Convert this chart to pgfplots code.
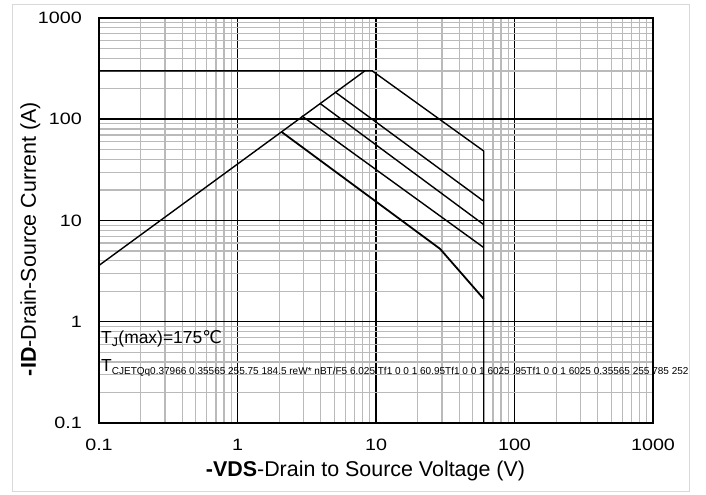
\documentclass[border=0pt]{standalone}
\usepackage{fontspec}
\setmainfont{Liberation Sans}
\newfontfamily\tickfont[FakeStretch=1.2]{Liberation Sans}
\newfontfamily\dejavu{DejaVu Sans}
\usepackage{pgfplots}
\pgfplotsset{compat=1.18}
\begin{document}
\begin{tikzpicture}
\useasboundingbox (0,0) rectangle (706bp,495bp);
\draw[color=black!15, line width=1bp] (12bp,3bp) rectangle (689bp,490bp);
\begin{axis}[
  at={(99bp,72bp)}, anchor=south west,
  scale only axis, width=554bp, height=405bp,
  xmode=log, ymode=log,
  xmin=0.1, xmax=1000, ymin=0.1, ymax=1000,
  xtick={0.1,1,10,100,1000}, xticklabels={0.1,1,10,100,1000},
  ytick={0.1,1,10,100,1000}, yticklabels={0.1,1,10,100,1000},
  major tick length=0pt, minor tick length=0pt,
  grid=both,
  major grid style={black, line width=1.5bp},
  minor grid style={color=black!27, line width=1.2bp},
  axis line style={black, line width=1.6bp},
  tick label style={font=\fontsize{16.5}{16.5}\tickfont},
  x tick label style={anchor=center, yshift=-22bp},
  y tick label style={anchor=east, xshift=-17bp, inner sep=0pt},
  xlabel={\textbf{-VDS}-Drain to Source Voltage (V)},
  ylabel={\textbf{-ID}-Drain-Source Current (A)},
  xlabel style={at={(axis description cs:0.481,-0.118)}, anchor=center, font=\fontsize{21.5}{21.5}\selectfont},
  ylabel style={at={(axis description cs:-0.124,0.454)}, anchor=center, font=\fontsize{21.5}{21.5}\selectfont},
  clip=false,
]
% R_DS(on) limit
\addplot[black, line width=1.4bp] coordinates {(0.1,3.6) (8.3,300)};
% current limit
\addplot[black, line width=1.4bp] coordinates {(0.1,300) (9.4,300) (60,48.5) (60,0.1)};
% pulse lines
\addplot[black, line width=1.4bp] coordinates {(5.06,186) (60,15.5)};
\addplot[black, line width=1.4bp] coordinates {(3.95,143) (60,9.1)};
\addplot[black, line width=1.4bp] coordinates {(2.91,108) (60,5.4)};
\addplot[black, line width=1.8bp] coordinates {(2.08,75) (29,5.25) (60,1.68)};
\node[anchor=base west, inner sep=0pt, font=\fontsize{17.5}{17.5}\selectfont] at (axis cs:0.1034,0.605) {T\textsubscript{J}(max)=175{\dejavu ℃}};
\node[anchor=base west, inner sep=0pt] at (axis cs:0.1034,0.32) {{\fontsize{17.5}{17.5}\selectfont T}{\fontsize{10.05}{10.05}\selectfont\raisebox{-2.5bp}{CJETQq0.37966 0.35565 255.75 184.5 reW* nBT/F5 6.025 Tf1 0 0 1 60.95Tf1 0 0 1 6025 .95Tf1 0 0 1 6025 0.35565 255 785 252}}};
\end{axis}
\end{tikzpicture}
\end{document}
